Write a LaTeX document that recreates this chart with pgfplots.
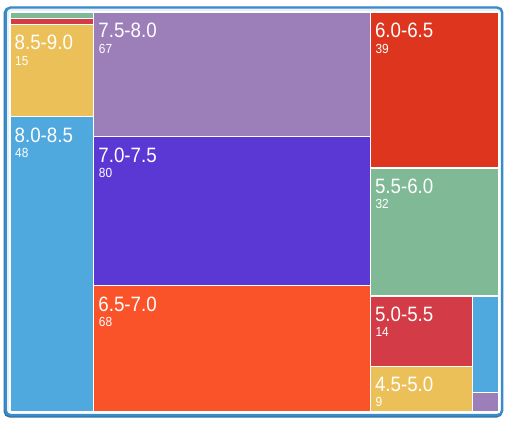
\documentclass[border=0pt]{standalone}
\usepackage{pgfplots}
\pgfplotsset{compat=1.18}
\usepackage{fontspec}
\newfontfamily\labfont{Liberation Sans}[FakeStretch=0.9]
\definecolor{cblue}{HTML}{4FA8DE}
\definecolor{cyellow}{HTML}{ECC058}
\definecolor{cpurple}{HTML}{9C7EB9}
\definecolor{cindigo}{HTML}{5B38D4}
\definecolor{corange}{HTML}{FB5329}
\definecolor{cred}{HTML}{DE351E}
\definecolor{cgreen}{HTML}{7FB996}
\definecolor{ccrimson}{HTML}{D33B46}
\definecolor{frameblue}{HTML}{3A8BC9}
\definecolor{frameshadow}{HTML}{2F72A8}
\definecolor{palebg}{HTML}{E8F1F9}
% Treemap cells (values): 9.5-10.0:1, 9.0-9.5:1, 8.5-9.0:15, 8.0-8.5:48 | 7.5-8.0:67, 7.0-7.5:80, 6.5-7.0:68 | 6.0-6.5:39, 5.5-6.0:32, 5.0-5.5:14, 4.5-5.0:9, 4.0-4.5:5, 3.5-4.0:1
% Column widths proportional to 65 / 215 / 100 of 380; heights proportional within each column.
\newcommand{\cell}[5]{\addplot[fill=#5, draw=white, line width=1.1pt] coordinates {(#1,#2) (#3,#2) (#3,#4) (#1,#4) (#1,#2)};}
\tikzset{tl/.style={anchor=base west, text=white, inner sep=0pt, font=\labfont\fontsize{20.8}{22}\selectfont},
         vl/.style={anchor=base west, text=white, inner sep=0pt, font=\labfont\fontsize{13.2}{15}\selectfont}}
\begin{document}
\begin{tikzpicture}
\begin{axis}[
  hide axis, scale only axis, clip=false,
  width=505pt, height=425pt,
  xmin=0, xmax=505, ymin=0, ymax=425, y dir=reverse,
]
\addplot[fill=white, draw=none] coordinates {(0,0) (505,0) (505,425) (0,425) (0,0)};
\draw[rounded corners=5pt, line width=2.6pt, draw=frameshadow] (axis cs:4.8,8.3) rectangle (axis cs:501.5,416.3);
\draw[rounded corners=5pt, line width=2.4pt, draw=frameblue, fill=palebg] (axis cs:5.6,7.5) rectangle (axis cs:502.2,415.2);
% left column
\cell{10}{12}{93.65}{18.15}{cgreen}
\cell{10}{18.15}{93.65}{24.31}{ccrimson}
\cell{10}{24.31}{93.65}{116.62}{cyellow}
\cell{10}{116.62}{93.65}{412}{cblue}
% middle column
\cell{93.65}{12}{370.32}{136.65}{cpurple}
\cell{93.65}{136.65}{370.32}{285.49}{cindigo}
\cell{93.65}{285.49}{370.32}{412}{corange}
% right column
\cell{370.32}{12}{499}{168}{cred}
\cell{370.32}{168}{499}{296}{cgreen}
\cell{370.32}{296}{472.38}{366.61}{ccrimson}
\cell{370.32}{366.61}{472.38}{412}{cyellow}
\cell{472.38}{296}{499}{392.67}{cblue}
\cell{472.38}{392.67}{499}{412}{cpurple}
% labels
\node[tl] at (axis cs:14.5,49.8) {8.5-9.0};
\node[vl] at (axis cs:15,65.5) {15};
\node[tl] at (axis cs:14.5,142.1) {8.0-8.5};
\node[vl] at (axis cs:15,157.8) {48};
\node[tl] at (axis cs:98.2,37.5) {7.5-8.0};
\node[vl] at (axis cs:98.7,53.2) {67};
\node[tl] at (axis cs:98.2,162.2) {7.0-7.5};
\node[vl] at (axis cs:98.7,177.8) {80};
\node[tl] at (axis cs:98.2,311.0) {6.5-7.0};
\node[vl] at (axis cs:98.7,326.6) {68};
\node[tl] at (axis cs:374.8,37.5) {6.0-6.5};
\node[vl] at (axis cs:375.3,53.2) {39};
\node[tl] at (axis cs:374.8,193.0) {5.5-6.0};
\node[vl] at (axis cs:375.3,208.2) {32};
\node[tl] at (axis cs:374.8,321.3) {5.0-5.5};
\node[vl] at (axis cs:375.3,336.8) {14};
\node[tl] at (axis cs:374.8,391.3) {4.5-5.0};
\node[vl] at (axis cs:375.3,406.5) {9};
\end{axis}
\end{tikzpicture}
\end{document}
